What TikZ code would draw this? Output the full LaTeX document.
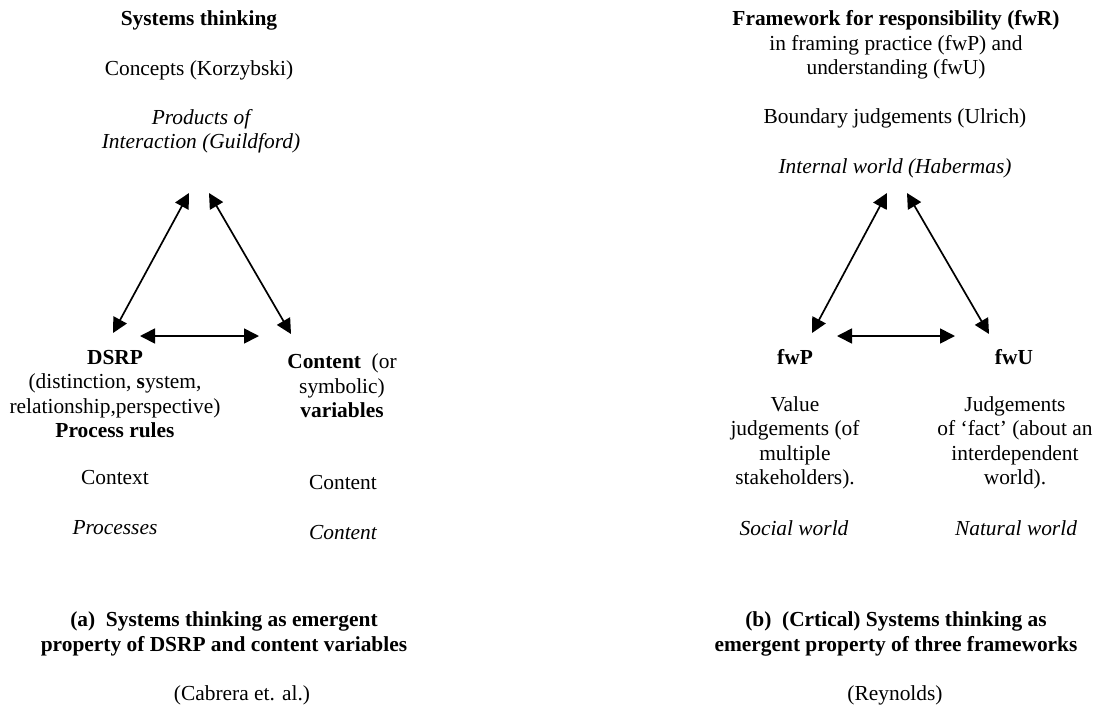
\documentclass[tikz,border=0pt]{standalone}
\usepackage{fontspec}
\setmainfont{Liberation Serif}
\usetikzlibrary{arrows.meta}
\tikzset{
  lbl/.style={align=center, inner sep=0pt, font=\fontsize{21.4}{24.5}\selectfont},
  link/.style={line width=1.7pt, {Triangle[length=15pt,width=15pt]}-{Triangle[length=15pt,width=15pt]}}
}
\begin{document}
\begin{tikzpicture}[x=1pt,y=-1pt]
\useasboundingbox (0,0) rectangle (1097,705);
% ---------- left panel ----------
\node[lbl] (st) at (199,20) {\textbf{Systems thinking}};
\node[lbl] (conc) at (199,70) {Concepts (Korzybski)};
\node[lbl] (prod) at (201,131) {\itshape Products of\\\itshape Interaction (Guildford)};
\node[lbl] (dsrp) at (115,394) {\textbf{DSRP}\\(distinction, \textbf{s}ystem,\\relationship,perspective)\\\textbf{Process rules}};
\node[lbl] (cont) at (342,386) {\textbf{Content}\ \ (or\\symbolic)\\\textbf{variables}};
\node[lbl] (ctx) at (115,478) {Context};
\node[lbl] (cnt) at (343,483) {Content};
\node[lbl] (proc) at (115,528) {\itshape Processes};
\node[lbl] (cnti) at (343,533) {\itshape Content};
\node[lbl] (capa) at (224,634) {\textbf{(a)\ \ Systems thinking as emergent}\\\textbf{property of DSRP and content variables}};
\node[lbl] (cab) at (242,695) {(Cabrera et. al.)};
\coordinate (aT1) at (189,193);
\coordinate (aL1) at (113,333);
\coordinate (aT2) at (209,193);
\coordinate (aR1) at (291,334);
\coordinate (aL2) at (140,336);
\coordinate (aR2) at (259,336);
\draw[link] (aT1) -- (aL1);
\draw[link] (aT2) -- (aR1);
\draw[link] (aL2) -- (aR2);
% ---------- right panel ----------
\node[lbl] (fwr) at (896,45) {\textbf{Framework for responsibility (fwR)}\\in framing practice (fwP) and\\understanding (fwU)};
\node[lbl] (bj) at (895,118) {Boundary judgements (Ulrich)};
\node[lbl] (iw) at (895,168) {\itshape Internal world (Habermas)};
\node[lbl] (fwp) at (795,357) {\textbf{fwP}};
\node[lbl] (fwu) at (1014,357) {\textbf{fwU}};
\node[lbl] (val) at (795,443) {Value\\judgements (of\\multiple\\stakeholders).};
\node[lbl] (jud) at (1015,443) {Judgements\\of `fact' (about an\\interdependent\\world).};
\node[lbl] (sw) at (794,528) {\itshape Social world};
\node[lbl] (nw) at (1016,528) {\itshape Natural world};
\node[lbl] (capb) at (896,634) {\textbf{(b)\ \ (Crtical) Systems thinking as}\\\textbf{emergent property of three frameworks}};
\node[lbl] (rey) at (895,695) {(Reynolds)};
\coordinate (bT1) at (887,193);
\coordinate (bL1) at (812,333);
\coordinate (bT2) at (907,193);
\coordinate (bR1) at (989,334);
\coordinate (bL2) at (837,336);
\coordinate (bR2) at (955,336);
\draw[link] (bT1) -- (bL1);
\draw[link] (bT2) -- (bR1);
\draw[link] (bL2) -- (bR2);
\end{tikzpicture}
\end{document}
